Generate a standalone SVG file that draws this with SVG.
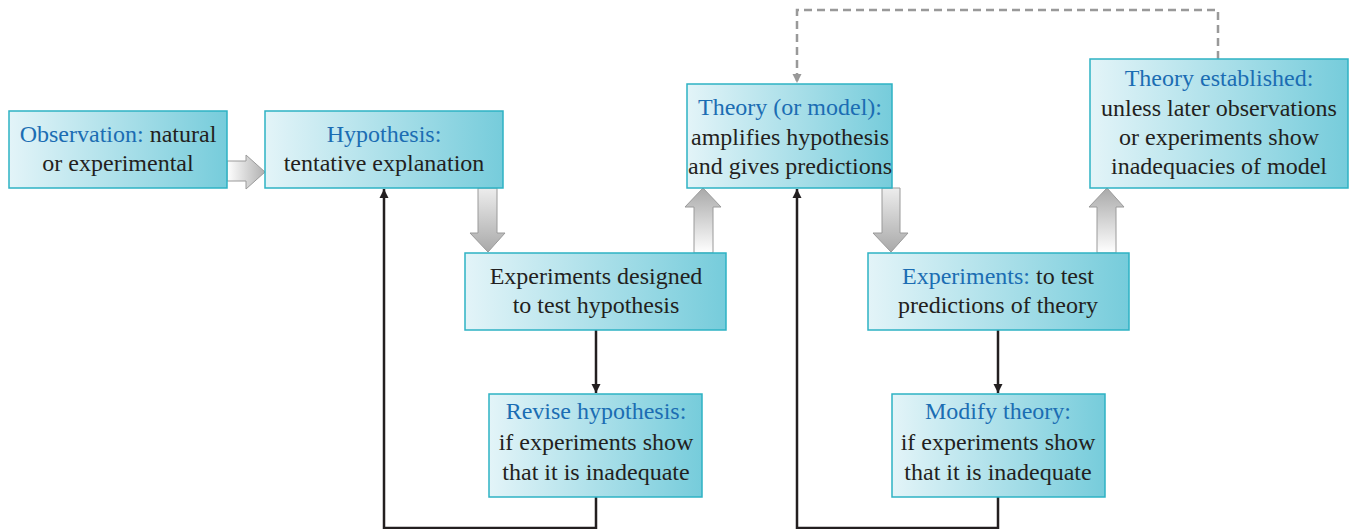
<svg xmlns="http://www.w3.org/2000/svg" width="1354" height="529" viewBox="0 0 1354 529">
<defs>
<linearGradient id="bg" x1="0" y1="0" x2="1" y2="0">
<stop offset="0" stop-color="#e3f4f8"/>
<stop offset="1" stop-color="#76ccdb"/>
</linearGradient>
<linearGradient id="gd" x1="0" y1="0" x2="0" y2="1">
<stop offset="0" stop-color="#ededed"/>
<stop offset="1" stop-color="#a9a9a9"/>
</linearGradient>
<linearGradient id="gu" x1="0" y1="1" x2="0" y2="0">
<stop offset="0" stop-color="#ffffff"/>
<stop offset="1" stop-color="#a9a9a9"/>
</linearGradient>
<linearGradient id="gr" x1="0" y1="0" x2="1" y2="0">
<stop offset="0" stop-color="#ffffff"/>
<stop offset="1" stop-color="#b0b0b0"/>
</linearGradient>
<marker id="ab" viewBox="0 0 10 10" refX="10" refY="5" markerWidth="9" markerHeight="12" markerUnits="userSpaceOnUse" orient="auto">
<path d="M0,0 L10,5 L0,10 z" fill="#231f20"/>
</marker>
<marker id="ag" viewBox="0 0 10 10" refX="10" refY="5" markerWidth="9" markerHeight="12" markerUnits="userSpaceOnUse" orient="auto">
<path d="M0,0 L10,5 L0,10 z" fill="#999"/>
</marker>
</defs>
<g id="connectors">
<g fill="none" stroke="#231f20" stroke-width="2.5">
<path d="M596,330 V393" marker-end="url(#ab)"/>
<path d="M596,497 V528 H384 V189" marker-end="url(#ab)"/>
<path d="M998,330 V393" marker-end="url(#ab)"/>
<path d="M998,497 V528 H797 V189" marker-end="url(#ab)"/>
</g>
<path d="M1218,59 V10 H797 V83" fill="none" stroke="#999" stroke-width="2.5" stroke-dasharray="8,5" marker-end="url(#ag)"/>
<g stroke="#9a9a9a" stroke-width="1">
<path fill="url(#gr)" d="M227,161 H246 V155 L265,172 L246,189 V181 H227 z"/>
<path fill="url(#gd)" d="M478,188 V233 H470 L488,252 L505,233 H497 V188 z"/>
<path fill="url(#gu)" d="M694,253 V207 H685 L703,188 L721,207 H713 V253 z"/>
<path fill="url(#gd)" d="M882,188 V233 H873 L891,252 L908,233 H900 V188 z"/>
<path fill="url(#gu)" d="M1097,253 V207 H1089 L1107,188 L1124,207 H1116 V253 z"/>
</g>
</g>
<g fill="url(#bg)" stroke="#2eb2c4" stroke-width="1.5">
<rect id="observation-box" x="9" y="111" width="218" height="77"/>
<rect id="hypothesis-box" x="265" y="111" width="238" height="77"/>
<rect id="experiments-designed-box" x="465" y="253" width="261" height="77"/>
<rect id="revise-hypothesis-box" x="489" y="394" width="213" height="103"/>
<rect id="theory-box" x="687" y="84" width="205" height="104"/>
<rect id="theory-established-box" x="1090" y="59" width="258" height="129"/>
<rect id="experiments-box" x="868" y="253" width="261" height="77"/>
<rect id="modify-theory-box" x="892" y="394" width="213" height="103"/>
</g>
<g id="observation">
<text x="118" y="142" font-family="Liberation Serif" font-size="24" fill="#231f20" text-anchor="middle"><tspan fill="#1b6db3">Observation:</tspan> natural</text>
<text x="118" y="171" font-family="Liberation Serif" font-size="24" fill="#231f20" text-anchor="middle">or experimental</text>
</g>
<g id="hypothesis">
<text x="384" y="142" font-family="Liberation Serif" font-size="24" fill="#1b6db3" text-anchor="middle">Hypothesis:</text>
<text x="384" y="171" font-family="Liberation Serif" font-size="24" fill="#231f20" text-anchor="middle">tentative explanation</text>
</g>
<g id="experiments-designed">
<text x="596" y="284" font-family="Liberation Serif" font-size="24" fill="#231f20" text-anchor="middle">Experiments designed</text>
<text x="596" y="313" font-family="Liberation Serif" font-size="24" fill="#231f20" text-anchor="middle">to test hypothesis</text>
</g>
<g id="revise-hypothesis">
<text x="596" y="419" font-family="Liberation Serif" font-size="24" fill="#1b6db3" text-anchor="middle">Revise hypothesis:</text>
<text x="596" y="450" font-family="Liberation Serif" font-size="24" fill="#231f20" text-anchor="middle">if experiments show</text>
<text x="596" y="480" font-family="Liberation Serif" font-size="24" fill="#231f20" text-anchor="middle">that it is inadequate</text>
</g>
<g id="theory">
<text x="790" y="115" font-family="Liberation Serif" font-size="24" fill="#1b6db3" text-anchor="middle">Theory (or model):</text>
<text x="790" y="145" font-family="Liberation Serif" font-size="24" fill="#231f20" text-anchor="middle">amplifies hypothesis</text>
<text x="790" y="174" font-family="Liberation Serif" font-size="24" fill="#231f20" text-anchor="middle">and gives predictions</text>
</g>
<g id="theory-established">
<text x="1219" y="86" font-family="Liberation Serif" font-size="24" fill="#1b6db3" text-anchor="middle">Theory established:</text>
<text x="1219" y="116" font-family="Liberation Serif" font-size="24" fill="#231f20" text-anchor="middle">unless later observations</text>
<text x="1219" y="145" font-family="Liberation Serif" font-size="24" fill="#231f20" text-anchor="middle">or experiments show</text>
<text x="1219" y="174" font-family="Liberation Serif" font-size="24" fill="#231f20" text-anchor="middle">inadequacies of model</text>
</g>
<g id="experiments">
<text x="998" y="284" font-family="Liberation Serif" font-size="24" fill="#231f20" text-anchor="middle"><tspan fill="#1b6db3">Experiments:</tspan> to test</text>
<text x="998" y="313" font-family="Liberation Serif" font-size="24" fill="#231f20" text-anchor="middle">predictions of theory</text>
</g>
<g id="modify-theory">
<text x="998" y="419" font-family="Liberation Serif" font-size="24" fill="#1b6db3" text-anchor="middle">Modify theory:</text>
<text x="998" y="450" font-family="Liberation Serif" font-size="24" fill="#231f20" text-anchor="middle">if experiments show</text>
<text x="998" y="480" font-family="Liberation Serif" font-size="24" fill="#231f20" text-anchor="middle">that it is inadequate</text>
</g>
</svg>
